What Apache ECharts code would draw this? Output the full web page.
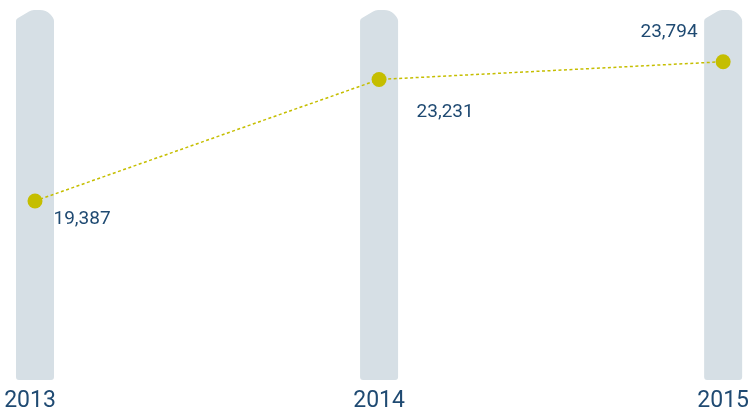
<!DOCTYPE html>
<html>
<head>
<meta charset="utf-8">
<script src="https://cdn.jsdelivr.net/npm/echarts@6/dist/echarts.min.js"></script>
<style>
  html, body { margin: 0; padding: 0; background: #ffffff; }
  #chart { width: 752px; height: 413px; }
</style>
</head>
<body>
<div id="chart"></div>
<script>
// data
const years = ['2013', '2014', '2015']
const values = [19387, 23231, 23794]

// hidden y range, fitted so the points sit close to the reference
const yMin = 13750
const yMax = 25431

const textColor = '#1f4a72'
const dotColor = '#c5be00'
const trackColor = '#d6dfe5'

// track shape: leaning dome top, small rounded bottom corners (38 x 370)
const trackPath = 'path://M0,11 Q0,9 2,8 L13,1.5 Q15,0 18,0 L24,0 Q30,0 34,4 Q38,8 38,11 L38,367 Q38,370 35,370 L3,370 Q0,370 0,367 Z'

const labelPos = [
  { position: 'right', offset: [6, 18] },
  { position: 'right', offset: [25, 33] },
  { position: 'left', offset: [-13, -29] }
]

const chart = echarts.init(document.getElementById('chart'))
chart.setOption({
  animation: false,
  grid: { left: 35, right: 28.5, top: 10, bottom: 33 },
  xAxis: {
    type: 'category',
    data: years,
    boundaryGap: false,
    axisLine: { show: false },
    axisTick: { show: false },
    axisLabel: {
      color: textColor,
      fontSize: 23,
      fontFamily: 'Roboto',
      margin: 11,
      formatter: (v, i) => (i === 0 ? '{first|' + v + '}' : v),
      rich: {
        first: { color: textColor, fontSize: 23, fontFamily: 'Roboto', padding: [0, 10, 0, 0] }
      }
    }
  },
  yAxis: {
    type: 'value',
    min: yMin,
    max: yMax,
    show: false,
    splitLine: { show: false }
  },
  series: [
    {
      type: 'pictorialBar',
      data: years.map(() => yMax),
      symbol: trackPath,
      symbolSize: [38, 370],
      symbolPosition: 'end',
      itemStyle: { color: trackColor },
      silent: true,
      z: 1
    },
    {
      type: 'line',
      data: values.map((v, i) => ({
        value: v,
        label: { show: true, position: labelPos[i].position, offset: labelPos[i].offset }
      })),
      symbol: 'circle',
      symbolSize: 15,
      itemStyle: { color: dotColor },
      lineStyle: { color: dotColor, width: 1.5, type: [3, 2.5] },
      label: {
        show: true,
        color: textColor,
        fontSize: 19,
        fontFamily: 'Roboto',
        formatter: p => p.value.toLocaleString('en-US')
      },
      z: 3
    }
  ]
})
</script>
</body>
</html>
